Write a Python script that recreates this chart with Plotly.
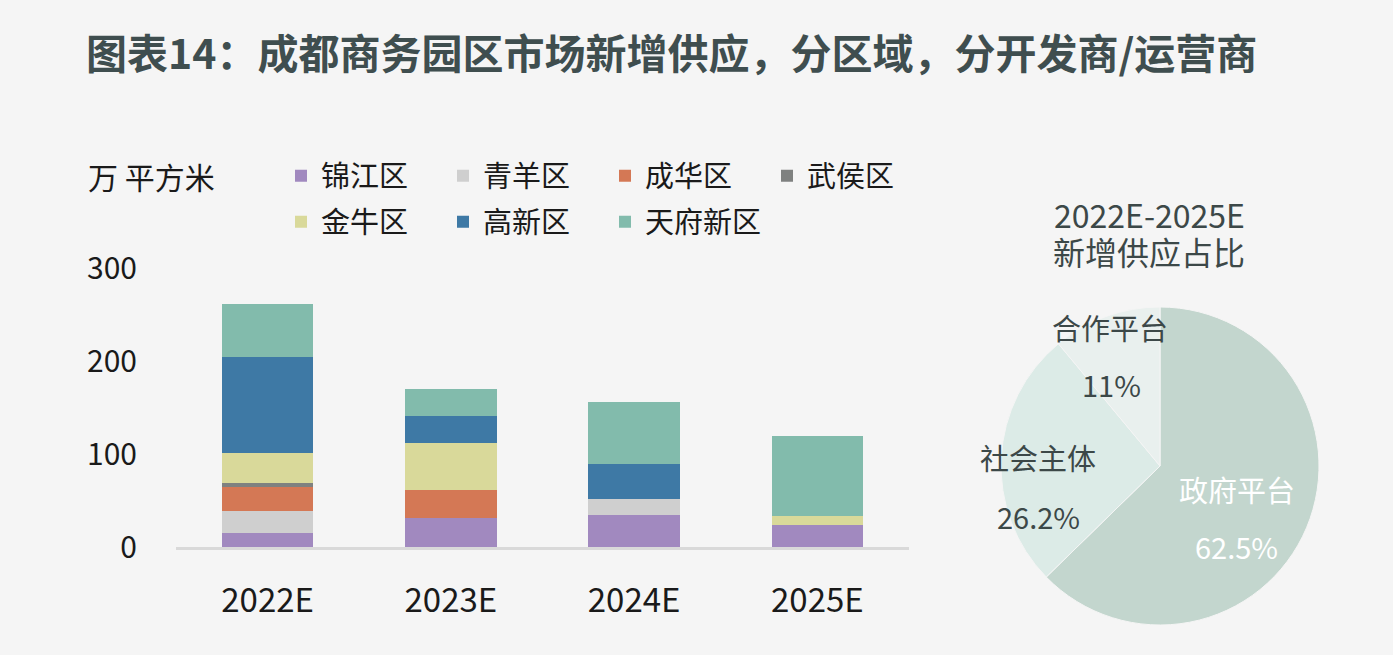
import plotly.graph_objects as go

# ---------------- data ----------------
years = ["2022E", "2023E", "2024E", "2025E"]
districts = ["锦江区", "青羊区", "成华区", "武侯区", "金牛区", "高新区", "天府新区"]
jinjiang = [15, 31.6, 34.4, 23.7]
qingyang = [23.3, 0, 17.2, 0]
chenghua = [26, 29.4, 0, 0]
wuhou = [5, 0, 0, 0]
jinniu = [32, 50.9, 0, 9.7]
gaoxin = [103, 28.7, 38, 0]
tianfu = [57.4, 29.4, 66.7, 85.7]
series = [jinjiang, qingyang, chenghua, wuhou, jinniu, gaoxin, tianfu]

y_ticks = [0, 100, 200, 300]

pie_labels = ["政府平台", "社会主体", "合作平台"]
pie_values = [62.5, 26.2, 11]

# ---------------- style ----------------
W, H = 1393, 655
bg = "#f5f5f5"
font_family = "Noto Sans CJK SC"
bar_colors = ["#a189bf", "#cfcfcf", "#d47855", "#7f8180", "#d9d99a", "#3e79a5", "#82bbac"]
pie_colors = ["#c3d6ce", "#dcebe7", "#e9f0ee"]
pie_text_colors = ["#ffffff", "#3c4848", "#3c4848"]
text_dark = "#1a1a1a"

def px_x(x):
    return x / W

def px_y(y):
    return 1 - y / H

fig = go.Figure()

for i, (name, vals) in enumerate(zip(districts, series)):
    fig.add_trace(go.Bar(
        x=years, y=vals, name=name,
        marker=dict(color=bar_colors[i], line=dict(width=0)),
        legend="legend" if i < 4 else "legend2",
        hoverinfo="skip",
    ))

fig.add_trace(go.Pie(
    labels=pie_labels, values=pie_values,
    sort=False, direction="clockwise", rotation=0,
    marker=dict(colors=pie_colors, line=dict(color="#f5f5f5", width=1)),
    textinfo="none", showlegend=False, hoverinfo="skip",
    domain=dict(x=[px_x(1160 - 159), px_x(1160 + 159)],
                y=[px_y(466 + 159), px_y(466 - 159)]),
))

# pie labels (text from data): (label centre, percent centre) in pixels
pie_label_pos = [((1237, 489), (1236, 546)),
                 ((1038, 457), (1038, 516)),
                 ((1110, 327), (1111, 384))]
annotations = []
for lab, val, (p1, p2), col in zip(pie_labels, pie_values, pie_label_pos, pie_text_colors):
    for txt, (lx, ly) in ((lab, p1), (f"{val:g}%", p2)):
        annotations.append(dict(
            x=px_x(lx), y=px_y(ly), xref="paper", yref="paper",
            text=txt, showarrow=False,
            font=dict(size=29, color=col, family=font_family),
            xanchor="center", yanchor="middle",
        ))

# title
annotations.append(dict(
    x=px_x(84), y=px_y(51), xref="paper", yref="paper",
    text="图表14：成都商务园区市场新增供应，分区域，分开发商/运营商",
    showarrow=False, xanchor="left", yanchor="middle",
    font=dict(size=41, color="#3f4e4f", family=font_family, weight=600),
))
# unit
annotations.append(dict(
    x=px_x(86), y=px_y(176), xref="paper", yref="paper",
    text="万 平方米", showarrow=False, xanchor="left", yanchor="middle",
    font=dict(size=30, color=text_dark, family=font_family),
))
# pie title (two lines)
for txt, yy in (("2022E-2025E", 214), ("新增供应占比", 251)):
    annotations.append(dict(
        x=px_x(1149), y=px_y(yy), xref="paper", yref="paper",
        text=txt, showarrow=False,
        xanchor="center", yanchor="middle",
        font=dict(size=32, color="#3c4848", family=font_family),
    ))

legend_common = dict(
    orientation="h", xanchor="left", yanchor="middle",
    font=dict(size=29, color=text_dark, family=font_family),
    bgcolor="rgba(0,0,0,0)", borderwidth=0,
    entrywidth=117, entrywidthmode="pixels",
    traceorder="normal",
)

fig.update_layout(
    width=W, height=H,
    paper_bgcolor=bg, plot_bgcolor=bg,
    margin=dict(l=0, r=0, t=0, b=0, autoexpand=False),
    barmode="stack", bargap=0.5,
    font=dict(family=font_family, color=text_dark),
    showlegend=True,
    legend=dict(x=px_x(281), y=px_y(176), **legend_common),
    legend2=dict(x=px_x(281), y=px_y(222), **legend_common),
    xaxis=dict(
        domain=[px_x(176), px_x(909)],
        showline=True, linecolor="#d9d9d9", linewidth=3,
        showgrid=False, zeroline=False, ticks="",
        tickfont=dict(size=33, color=text_dark, family=font_family),
        ticklabelstandoff=22,
        fixedrange=True, automargin=False,
    ),
    yaxis=dict(
        domain=[px_y(547), px_y(268)], range=[0, 300],
        tickvals=y_ticks, ticktext=[str(v) for v in y_ticks],
        showgrid=False, zeroline=False, showline=False, ticks="",
        tickfont=dict(size=30, color=text_dark, family=font_family),
        ticklabelstandoff=38,
        fixedrange=True, automargin=False,
    ),
    annotations=annotations,
)

fig.write_html("out.html")
